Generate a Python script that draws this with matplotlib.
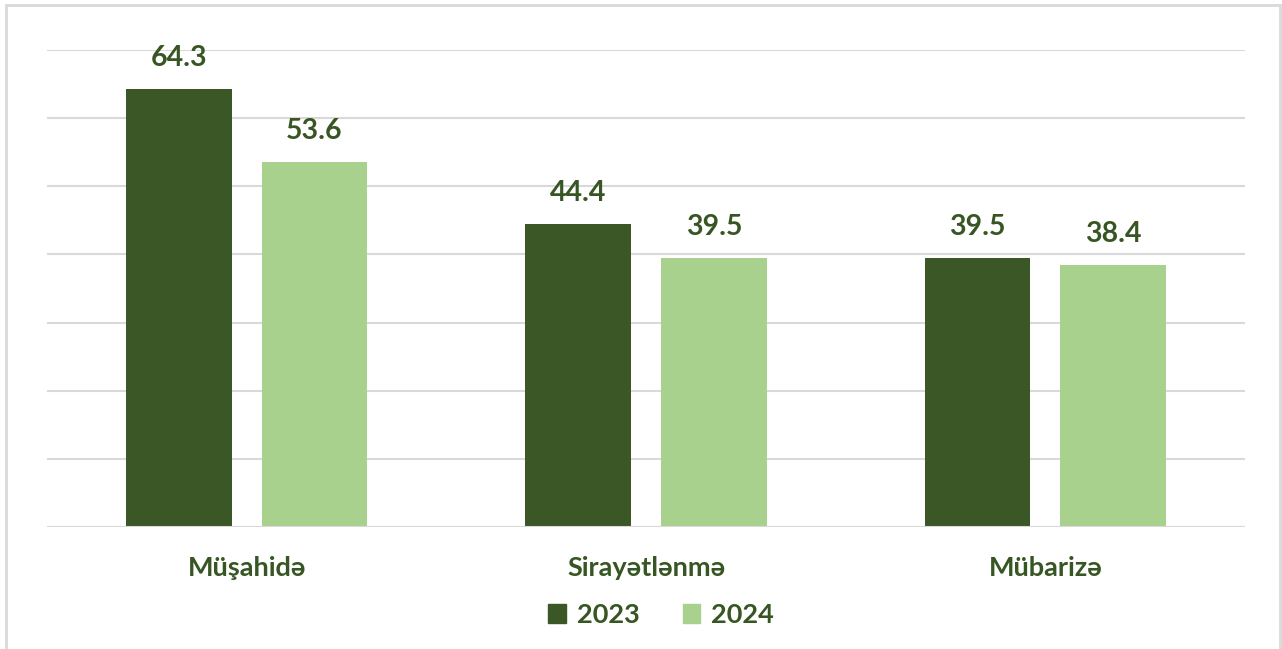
import matplotlib
matplotlib.use("Agg")
import matplotlib.pyplot as plt
from matplotlib.patches import Rectangle, Patch
import numpy as np

categories = ["Müşahidə", "Sirayətlənmə", "Mübarizə"]
series_names = ["2023", "2024"]
values_2023 = [64.3, 44.4, 39.5]
values_2024 = [53.6, 39.5, 38.4]

dark = "#3B5725"
light = "#A9D18E"
text_c = "#375623"
grid_c = "#D9D9D9"

plt.rcParams['font.family'] = ['Lato', 'DejaVu Sans']

W, H = 1282, 649
fig = plt.figure(figsize=(W/100, H/100), dpi=100)
ax = fig.add_axes([47/W, (H-527)/H, 1198/W, 477/H])

x = np.arange(len(categories))
bw = 0.265
off = 0.17
b1 = ax.bar(x - off, values_2023, bw, color=dark, label=series_names[0], zorder=3)
b2 = ax.bar(x + off, values_2024, bw, color=light, label=series_names[1], zorder=3)

for bars, vals in ((b1, values_2023), (b2, values_2024)):
    for r, v in zip(bars, vals):
        ax.annotate(f"{v:.1f}", (r.get_x() + r.get_width()/2, v), xytext=(0, 13),
                    textcoords="offset points", ha="center", va="bottom",
                    fontsize=20.5, fontweight="bold", color=text_c)

ax.set_xlim(-0.5, 2.5)
ax.set_ylim(0, 70)
ax.set_yticks(np.arange(0, 71, 10))
ax.yaxis.grid(True, color=grid_c, linewidth=1.5, zorder=0)
ax.set_yticklabels([])
ax.tick_params(axis='y', length=0)
ax.tick_params(axis='x', length=0, pad=21)
ax.set_xticks(x)
ax.set_xticklabels(categories, fontsize=19.5, fontweight="bold", color=text_c)
for s in ax.spines.values():
    s.set_visible(False)
ax.axhline(0, color=grid_c, linewidth=1.5, zorder=4)

leg = fig.legend(handles=[Patch(color=dark), Patch(color=light)], labels=series_names,
                 loc="center", bbox_to_anchor=(661/W, (H-615)/H), ncol=2, frameon=False,
                 prop={'size': 19.5, 'weight': 'bold'}, handlelength=0.65, handleheight=0.65,
                 handletextpad=0.4, columnspacing=1.6)
for t in leg.get_texts():
    t.set_color(text_c)

fig.patches.append(Rectangle((6/W, -0.05), (1280-6)/W, (H-5)/H + 0.05, transform=fig.transFigure,
                             fill=False, edgecolor=grid_c, linewidth=2))

fig.savefig("out.png", dpi=100, facecolor="white")
